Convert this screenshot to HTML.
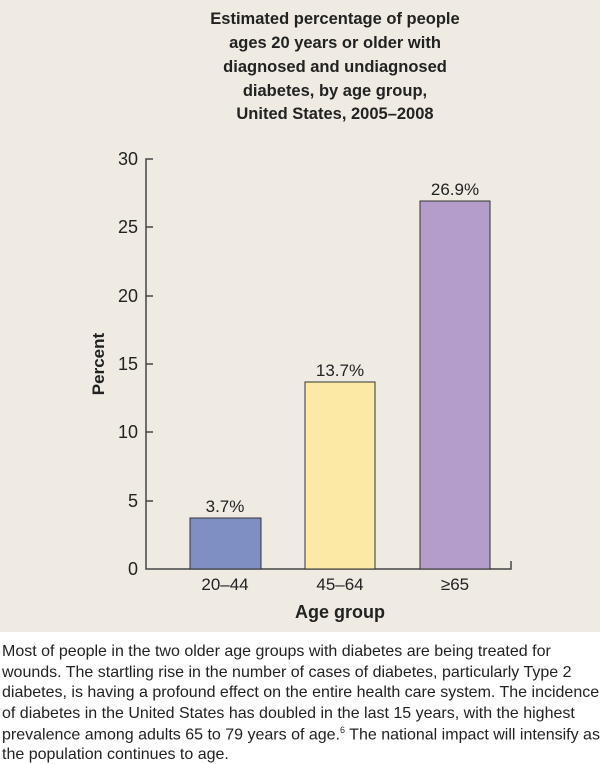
<!DOCTYPE html>
<html><head><meta charset="utf-8"><style>
body{margin:0;width:600px;height:764px;background:#fff;overflow:hidden;font-family:"Liberation Sans",sans-serif}
.cap{position:absolute;left:2px;font-size:16px;color:#222;white-space:nowrap;transform-origin:0 0}
</style></head><body>
<svg width="600" height="632" style="position:absolute;left:0;top:0" font-family="Liberation Sans, sans-serif">
<rect width="600" height="632" fill="#efebe3"/>
<g font-weight="bold" font-size="16.5" text-anchor="middle" fill="#222">
<text x="335" y="24">Estimated percentage of people</text>
<text x="335" y="48">ages 20 years or older with</text>
<text x="335" y="72">diagnosed and undiagnosed</text>
<text x="335" y="96">diabetes, by age group,</text>
<text x="335" y="119">United States, 2005–2008</text>
</g>
<g stroke="#444" stroke-width="1.5" fill="none">
<path d="M153 159H146V569H511V561"/>
<path d="M146 227H153M146 296H153M146 364H153M146 432H153M146 501H153"/>
</g>
<g font-size="18" text-anchor="end" fill="#222">
<text x="138" y="165">30</text><text x="138" y="233">25</text><text x="138" y="302">20</text>
<text x="138" y="370">15</text><text x="138" y="438">10</text><text x="138" y="507">5</text><text x="138" y="575">0</text>
</g>
<g stroke="#333" stroke-width="1">
<rect x="190" y="518" width="71" height="51" fill="#7f8fc4"/>
<rect x="305" y="382" width="70" height="187" fill="#fde9a6"/>
<rect x="420" y="201" width="70" height="368" fill="#b49dcb"/>
</g>
<g font-size="17" text-anchor="middle" fill="#222">
<text x="225" y="512">3.7%</text><text x="340" y="376">13.7%</text><text x="455" y="195">26.9%</text>
<text x="225" y="590">20–44</text><text x="340" y="590">45–64</text><text x="455" y="590">≥65</text>
</g>
<text x="340" y="618" font-size="18" font-weight="bold" text-anchor="middle" fill="#222">Age group</text>
<text transform="translate(104,364) rotate(-90)" font-size="17" font-weight="bold" text-anchor="middle" fill="#222">Percent</text>
</svg>
<div class="cap" style="top:643px">Most of people in the two older age groups with diabetes are being treated for</div>
<div class="cap" style="top:664px">wounds. The startling rise in the number of cases of diabetes, particularly Type 2</div>
<div class="cap" style="top:684px">diabetes, is having a profound effect on the entire health care system. The incidence</div>
<div class="cap" style="top:705px">of diabetes in the United States has doubled in the last 15 years, with the highest</div>
<div class="cap" style="top:725px">prevalence among adults 65 to 79 years of age.<sup style="font-size:9px">6</sup> The national impact will intensify as</div>
<div class="cap" style="top:746px">the population continues to age.</div>
</body></html>
